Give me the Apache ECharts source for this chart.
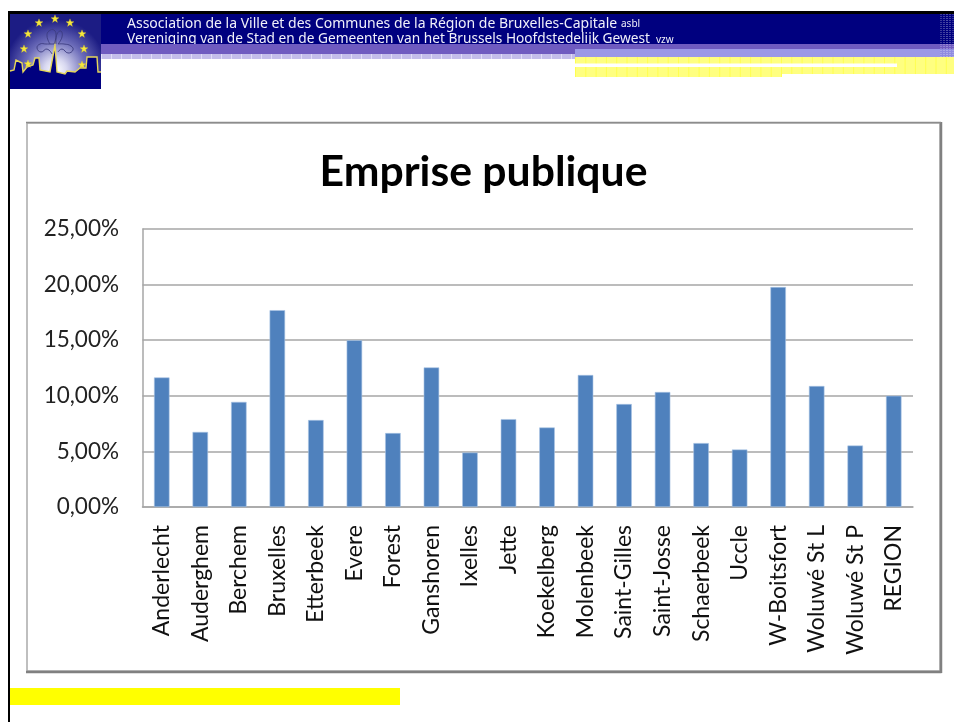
<!DOCTYPE html>
<html>
<head>
<meta charset="utf-8">
<style>html,body{margin:0;padding:0;background:#fff}#c{width:954px;height:722px}</style>
<script src="https://cdn.jsdelivr.net/npm/echarts@6/dist/echarts.min.js"></script>
</head>
<body>
<div id="c"></div>
<script>
const chartTitle = 'Emprise publique';
const categories = ['Anderlecht','Auderghem','Berchem','Bruxelles','Etterbeek','Evere','Forest','Ganshoren','Ixelles','Jette','Koekelberg','Molenbeek','Saint-Gilles','Saint-Josse','Schaerbeek','Uccle','W-Boitsfort','Woluwé St L','Woluwé St P','REGION'];
const values = [11.65,6.75,9.45,17.7,7.82,15.0,6.65,12.55,4.9,7.9,7.15,11.87,9.26,10.34,5.75,5.17,19.78,10.88,5.53,10.0];
const headerFr = 'Association de la Ville et des Communes de la Région de Bruxelles-Capitale';
const headerFrSuffix = 'asbl';
const headerNl = 'Vereniging van de Stad en de Gemeenten van het Brussels Hoofdstedelijk Gewest';
const headerNlSuffix = 'vzw';

function rect(x,y,w,h,fill,z){return {type:'rect',silent:true,z:z||1,shape:{x,y,width:w,height:h},style:{fill}};}
function line(x1,y1,x2,y2,stroke,lineWidth,lineDash,z,opacity){return {type:'line',silent:true,z:z||2,shape:{x1,y1,x2,y2},style:{stroke,lineWidth,lineDash,opacity:opacity==null?1:opacity}};}
function txt(x,y,text,fontSize,z){return {type:'text',silent:true,z:z||5,x,y,style:{text,fill:'#f0f0fa',font:fontSize+'px "Noto Sans"',textVerticalAlign:'middle'}};}
function star(cx,cy,r){
  const pts=[];
  for(let i=0;i<10;i++){const a=-Math.PI/2+i*Math.PI/5,q=i%2?r*0.42:r;pts.push([cx+q*Math.cos(a),cy+q*Math.sin(a)]);}
  return {type:'polygon',silent:true,z:7,shape:{points:pts},style:{fill:'#f6e83c',stroke:'#c9b92a',lineWidth:0.3}};
}
function curve(points){return {type:'polyline',silent:true,z:7,shape:{points,smooth:0.5},style:{stroke:'#3c3c80',lineWidth:0.9,fill:null}};}
const starPos=[[55,19],[39,23],[70,23],[28,34],[82,34],[24,49],[84,49],[28,64],[82,65]];
const sky=[[10,71],[14,70],[16,60],[22,63],[23,72],[27,67],[33,65],[35,58],[39,58],[40,70],[50,72],[55,45],[57,72],[65,74],[67,71],[75,72],[80,68],[86,68],[87,57],[97,57],[98,72],[101,72]];
const graphics=[
  rect(8,11,946,3,'#000',1),
  rect(8,11,2,711,'#000',1),
  rect(10,14,944,30,'#00007f',1),
  rect(101,44,853,10,'#6f5bc0',6),
  rect(101,54,474,5,'#c3bdea',6),
  line(101,56.5,575,56.5,'#e0ddf5',5,[1,9],6),
  rect(575,49,365,8,'#9b99e6',6),
  rect(940,49,14,8,'#8f8ce0',6),
  rect(575,57,379,20,'#ffff80',3),
  line(575,67,954,67,'#ffff30',20,[1,9.3],4,0.6),
  rect(575,63.5,322,3.5,'#ffffff',4),
  rect(782,74,172,4,'#ffffff',4),
  line(941,14,941,58,'#ffffff',1,[1,1],7,0.45),
  line(944,14,944,58,'#ffffff',1,[1,1],7,0.5),
  line(947,14,947,58,'#ffffff',1,[1,1],7,0.6),
  line(950,14,950,58,'#ffffff',1,[1,1],7,0.5),
  line(953,14,953,58,'#ffffff',1,[1,1],7,0.4),
  txt(127,24,headerFr,14),
  txt(621,24.5,headerFrSuffix,10),
  txt(127,39,headerNl,13.7),
  txt(656,40.5,headerNlSuffix,10),
  {type:'rect',silent:true,z:6,shape:{x:10,y:14,width:91,height:75},
   style:{fill:{type:'radial',x:0.5,y:0.75,r:0.68,colorStops:[{offset:0,color:'#ffffff'},{offset:0.22,color:'#d8d8f0'},{offset:0.6,color:'#6a6ab8'},{offset:1,color:'#1c1c84'}]}}},
  {type:'polygon',silent:true,z:6,shape:{points:sky.concat([[101,89],[10,89]])},style:{fill:'#00007f'}},
  {type:'polyline',silent:true,z:7,shape:{points:sky},style:{stroke:'#e5d65a',lineWidth:1.4,fill:null}},
  curve([[54,44],[46,44],[40,44],[37,48],[41,52],[47,49],[52,54]]),
  curve([[50,44],[47,36],[49,31],[54,30],[56,36],[54,44]]),
  curve([[56,44],[57,34],[61,31],[62,37],[58,44]]),
  curve([[58,44],[64,44],[71,46],[73,50],[68,53],[62,49],[58,52]]),
  ...starPos.map(p=>star(p[0],p[1],4.2)),
  rect(10,688,390,17,'#ffff00',1),
  {type:'rect',silent:true,z:1,shape:{x:27,y:123,width:913,height:548},style:{fill:'none',stroke:'#aaaaaa',lineWidth:1.5}},
  line(26,672,941.5,672,'#808080',2.5,null,2),
  line(941,122,941,673,'#808080',2.5,null,2),
  line(26,122.5,941,122.5,'#8c8c8c',1.5,null,2)
];
const option={
  animation:false,
  title:{text:chartTitle,left:478.5,top:146,textAlign:'center',textStyle:{fontFamily:'Lato',fontWeight:'bold',fontSize:42.7,color:'#000'}},
  grid:{left:142.5,right:41,top:229,bottom:215,containLabel:false},
  xAxis:{type:'category',data:categories,boundaryGap:true,
    axisLine:{show:true,lineStyle:{color:'#a6a6a6',width:1.5}},axisTick:{show:false},
    axisLabel:{interval:0,rotate:90,margin:18,padding:[3,0,0,0],fontFamily:'Lato',fontSize:23,color:'#111'}},
  yAxis:{type:'value',min:0,max:25,interval:5,
    axisLine:{show:true,lineStyle:{color:'#a6a6a6',width:1.5}},axisTick:{show:false},
    splitLine:{show:true,lineStyle:{color:'#a6a6a6',width:1.5}},
    axisLabel:{margin:23.5,fontFamily:'Lato',fontSize:22.5,color:'#222',formatter:v=>v.toFixed(2).replace('.',',')+'%'}},
  series:[{type:'bar',data:values,barWidth:15.5,z:3,itemStyle:{color:'#4f81bd',borderColor:'#a9c4e4',borderWidth:0.6}}],
  graphic:graphics
};
echarts.init(document.getElementById('c'),null,{renderer:'canvas'}).setOption(option);
</script>
</body>
</html>
